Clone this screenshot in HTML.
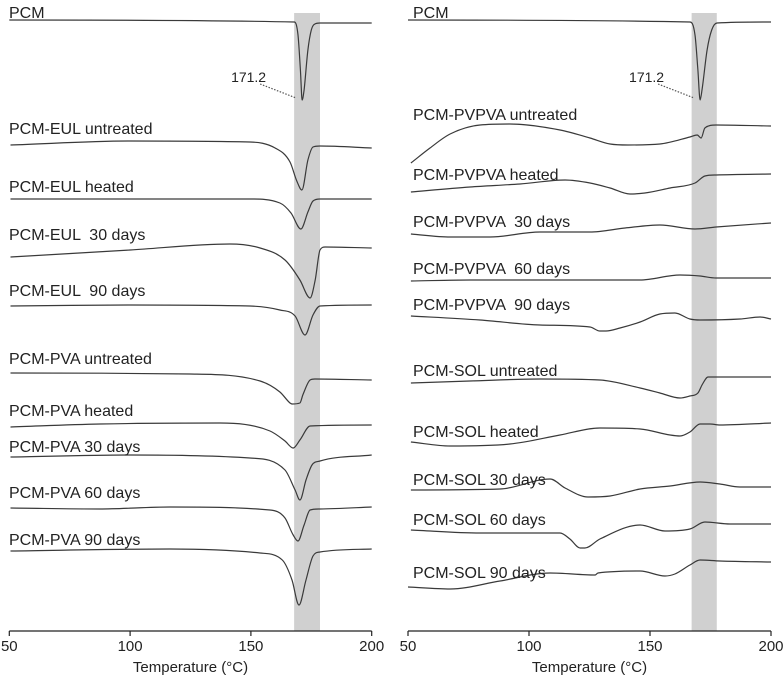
<!DOCTYPE html>
<html><head><meta charset="utf-8"><style>
body{margin:0;background:#fff;}
svg{display:block;font-family:"Liberation Sans",Arial,sans-serif;}
.lbl{font-size:16px;fill:#222;white-space:pre;}
.pk{font-size:14px;fill:#222;}
.tick{font-size:15px;fill:#222;}
</style></head><body>
<svg id="chart" width="783" height="678" viewBox="0 0 783 678"></svg>
<script>
const ticks=[50,100,150,200];
const bandLeft=[167.9,178.6];
const bandRight=[167.2,177.6];
const peakLabel="171.2";
const labelsLeft=["PCM","PCM-EUL untreated","PCM-EUL heated","PCM-EUL  30 days","PCM-EUL  90 days","PCM-PVA untreated","PCM-PVA heated","PCM-PVA 30 days","PCM-PVA 60 days","PCM-PVA 90 days"];
const labelsRight=["PCM","PCM-PVPVA untreated","PCM-PVPVA heated","PCM-PVPVA  30 days","PCM-PVPVA  60 days","PCM-PVPVA  90 days","PCM-SOL untreated","PCM-SOL heated","PCM-SOL 30 days","PCM-SOL 60 days","PCM-SOL 90 days"];
const labelYLeft=[12,128,186,234,290,358,410,446,492,539];
const labelYRight=[12,114,174,221,268,304,370,431,479,519,572];
// temperatures (°C) and heat flow (a.u.) for each curve
const tPCM=[50,168,169.5,170.5,171.2,172,173.6,175,176.5,178.6,200];
const vPCM=[611,609,596,561,531,541,581,601,607,608,608];
const tEULu=[50.5,100,149.6,160,166.2,169,171.1,173.6,175.7,178.6,200];
const vEULu=[486,490,489,483,469,450,441,471,484,485,483];
const tEULh=[50.5,149.6,162,166.6,170.7,173.6,175.7,178.6,200];
const vEULh=[432,432,428,418,402,419,430,432,432];
const tEUL30=[50.5,100,141.3,153.8,164.1,170.3,174.5,176.6,178.6,180.7,200];
const vEUL30=[374,381,387,383,371,351,333,351,381,384,383];
const tEUL90=[50.5,100,149.6,162,168.3,172.4,175.7,178.6,200];
const vEUL90=[325,326,325,321,315,296,316,325,326];
const tPVAu=[50.5,124.8,153.8,162,166.2,167,170.3,171.5,174.5,176.5,200];
const vPVAu=[258,257,250,239,228,227,228,236,251,252,251];
const tPVAh=[50.5,87.5,137.2,157.9,164.1,167.5,170.3,174.5,200];
const vPVAh=[204,207,208,200,190,183,191,205,206];
const tPVA30=[50.5,100,149.6,164.1,168.3,170.3,172.8,175.3,178.6,200];
const vPVA30=[174,176,173,161,141,131,151,166,170,176];
const tPVA60=[50.5,87.5,116.5,157.9,164.1,167.5,169.5,172,174.5,178.6,200];
const vPVA60=[123,122,124,121,113,96,90,106,121,122,124];
const tPVA90=[50.5,116.5,153.8,163,167,169.9,172.8,175.7,178.6,200];
const vPVA90=[80,82,78,71,51,26,51,75,79,82];
const tPCMr=[50,166.5,168.6,169.8,170.7,171.5,173.6,175.5,177.7,200];
const vPCMr=[611,609,596,561,531,541,581,601,608,609];
const tPVPu=[51.2,59.1,67.4,79.8,92.1,112.8,125.2,133.5,140.9,154.1,166.5,169.5,171.1,172.7,177.3,200];
const vPVPu=[468,483,497,506,507,501,493,487,486,487,494,496,493,503,506,505];
const tPVPh=[51.2,75.6,96.3,114.9,125.2,133.5,141.7,147.9,158.3,168.6,172.7,177.3,200];
const vPVPh=[439,444,447,451,448,443,437,438,443,448,455,456,457];
const tPVP30=[51.2,67.4,83.9,104.5,125.2,139.7,154.1,168.6,177.3,200];
const vPVP30=[397,394,394,399,399,403,406,402,404,408];
const tPVP60=[51.2,75.6,100.4,145.9,162.4,170.7,177.3,200];
const vPVP60=[350,351,351,351,356,355,353,353];
const tPVP90=[51.2,79.8,104.5,125.2,129.3,131.8,137.6,145.9,154.1,160.3,166.5,170.7,187.2,195.5,200];
const vPVP90=[315,311,306,304,300,300,303,309,317,318,312,311,312,314,312];
const tSOLu=[51.2,75.6,104.5,129.3,145.9,154.1,162.4,166.5,169.8,171.5,174,200];
const vSOLu=[248,250,252,251,243,238,233,235,238,246,254,254];
const tSOLh=[51.2,67.4,92.1,112.8,129.3,145.9,158.3,162.4,166.5,170.7,174.8,178.9,200];
const vSOLh=[189,185,187,196,203,202,196,195,199,207,207,206,208];
const tSOL30=[51.2,88,108.7,114.9,124.4,133.5,145.9,158.3,170.7,178.9,187.2,200];
const vSOL30=[141,142,152,143,134,135,142,145,149,147,144,144];
const tSOL60=[51.2,79.8,112.8,116.9,121.1,123.1,129.3,145.9,156.2,166.5,172.7,183.1,200];
const vSOL60=[101,98,98,92,83,83,92,106,100,102,109,107,107];
const tSOL90=[50,67.4,88,108.7,127.3,128.5,145.9,156.2,160.3,166.5,170.7,178.9,200];
const vSOL90=[44,42,50,58,56,58,60,55,57,66,71,70,69];

const svg=document.getElementById('chart');
const NS='http://www.w3.org/2000/svg';
function mk(tag,attrs,parent){const e=document.createElementNS(NS,tag);for(const k in attrs)e.setAttribute(k,attrs[k]);(parent||svg).appendChild(e);return e;}
const AXIS_Y=631;
function yScale(v){return AXIS_Y-v;}
const panels=[
 {x0:9.3,x1:371.7,band:bandLeft,labels:labelsLeft,ly:labelYLeft,lx:9,name:'left',
  series:[[tPCM,vPCM],[tEULu,vEULu],[tEULh,vEULh],[tEUL30,vEUL30],[tEUL90,vEUL90],[tPVAu,vPVAu],[tPVAh,vPVAh],[tPVA30,vPVA30],[tPVA60,vPVA60],[tPVA90,vPVA90]],peakIdx:4},
 {x0:408,x1:771,band:bandRight,labels:labelsRight,ly:labelYRight,lx:413,name:'right',
  series:[[tPCMr,vPCMr],[tPVPu,vPVPu],[tPVPh,vPVPh],[tPVP30,vPVP30],[tPVP60,vPVP60],[tPVP90,vPVP90],[tSOLu,vSOLu],[tSOLh,vSOLh],[tSOL30,vSOL30],[tSOL60,vSOL60],[tSOL90,vSOL90]],peakIdx:4}
];
function pathFrom(pts){
 const n=pts.length;const dx=[],m=[],tg=[];
 for(let i=0;i<n-1;i++){dx.push(pts[i+1][0]-pts[i][0]);m.push((pts[i+1][1]-pts[i][1])/dx[i]);}
 tg[0]=m[0];tg[n-1]=m[n-2];
 for(let i=1;i<n-1;i++){tg[i]=(m[i-1]*m[i]<=0)?0:(m[i-1]+m[i])/2;}
 for(let i=0;i<n-1;i++){
  if(m[i]===0){tg[i]=0;tg[i+1]=0;continue;}
  const a=tg[i]/m[i],b=tg[i+1]/m[i],s=a*a+b*b;
  if(s>9){const t=3/Math.sqrt(s);tg[i]=t*a*m[i];tg[i+1]=t*b*m[i];}
 }
 let d='M'+pts[0][0].toFixed(1)+','+pts[0][1].toFixed(1);
 for(let i=0;i<n-1;i++){
  const h=dx[i]/3;
  d+=' C'+(pts[i][0]+h).toFixed(1)+','+(pts[i][1]+tg[i]*h).toFixed(1)+' '+(pts[i+1][0]-h).toFixed(1)+','+(pts[i+1][1]-tg[i+1]*h).toFixed(1)+' '+pts[i+1][0].toFixed(1)+','+pts[i+1][1].toFixed(1);
 }
 return d;
}
panels.forEach(p=>{
 const xs=t=>p.x0+(t-50)/150*(p.x1-p.x0);
 const g=mk('g',{});
 
 
 const band=mk('rect',{x:xs(p.band[0]),y:13,width:xs(p.band[1])-xs(p.band[0]),height:AXIS_Y-13,fill:'#d0d0d0'},g);
 
 
 p.series.forEach((s,i)=>{
  const pts=s[0].map((t,j)=>[xs(t),yScale(s[1][j])]);
  const path=mk('path',{d:pathFrom(pts),fill:'none',stroke:'#3a3a3a','stroke-width':1.2},g);
  
  
  const tx=mk('text',{x:p.lx,y:p.ly[i]+6,class:'lbl'},g);
  tx.textContent=p.labels[i];
  
  
 });
 const s0=p.series[0];
 const px=xs(s0[0][p.peakIdx]),py=yScale(s0[1][p.peakIdx]);
 const ln=mk('line',{x1:px-42,y1:py-16,x2:px-6,y2:py-2,stroke:'#555','stroke-width':1.2,'stroke-dasharray':'1.5,1.5'},g);
 
 
 const pl=mk('text',{x:px-36,y:py-18,class:'pk','text-anchor':'end'},g);
 pl.textContent=peakLabel;
 
 
 const ax=mk('line',{x1:p.x0,y1:AXIS_Y,x2:p.x1,y2:AXIS_Y,stroke:'#222','stroke-width':1.2},g);
 
 
 ticks.forEach(t=>{
  const tk=mk('line',{x1:xs(t),y1:AXIS_Y,x2:xs(t),y2:AXIS_Y+5,stroke:'#222','stroke-width':1.2},g);
  
  
  const tl=mk('text',{x:xs(t),y:651,class:'tick','text-anchor':'middle'},g);
  tl.textContent=t;
  
  
 });
 const ttl=mk('text',{x:(p.x0+p.x1)/2,y:672,class:'tick','text-anchor':'middle'},g);
 ttl.textContent='Temperature (°C)';
 
 
});
</script>
</body></html>
